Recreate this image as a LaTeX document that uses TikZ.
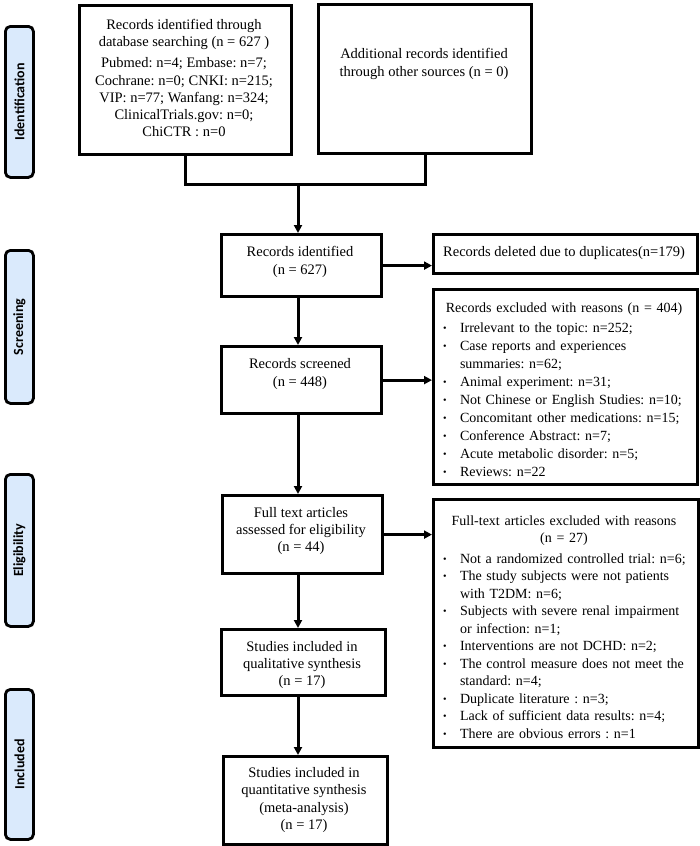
\documentclass[tikz,border=0pt]{standalone}
\usepackage{fontspec}
\setmainfont{Liberation Serif}
\newfontfamily\labfont{Carlito}
\usetikzlibrary{arrows.meta}
\definecolor{labblue}{RGB}{218,234,252}
\frenchspacing
\newcommand\bul[1]{\par\noindent\makebox[21pt][l]{\hspace{4pt}\raisebox{1.2pt}{\fontsize{10}{10}\selectfont\textbullet}}\mbox{#1}}
\newcommand\cont[1]{\par\noindent\hspace*{21pt}\mbox{#1}}
\tikzset{
  box/.style={draw, line width=3.2pt, fill=white, inner sep=0pt, anchor=north west},
  txt/.style={align=center, font=\fontsize{14.5}{17.3}\selectfont, inner sep=0pt},
  list/.style={inner sep=0pt, text width=250pt},
  stage/.style={draw, line width=2.8pt, rounded corners=5pt, fill=labblue, anchor=north west, inner sep=0pt},
  stagetxt/.style={rotate=90, font=\labfont\bfseries\fontsize{14}{14}\selectfont, inner sep=0pt},
  conn/.style={line width=3pt},
  arr/.style={conn, -{Triangle[length=8pt,width=8pt]}},
}
\begin{document}
\begin{tikzpicture}[x=1pt,y=-1pt]
\useasboundingbox (0,0) rectangle (700,846);
% stage labels
\node[stage, minimum width=28pt, minimum height=151pt] (s1) at (4,25) {};
\node[stagetxt] (s1t) at (s1.center) {Identification};
\node[stage, minimum width=28pt, minimum height=153pt] (s2) at (4,249) {};
\node[stagetxt] (s2t) at (s2.center) {Screening};
\node[stage, minimum width=28pt, minimum height=152pt] (s3) at (4,473) {};
\node[stagetxt] (s3t) at (s3.center) {Eligibility};
\node[stage, minimum width=28pt, minimum height=150pt] (s4) at (4,688) {};
\node[stagetxt] (s4t) at (s4.center) {Included};
% main boxes
\node[box, minimum width=212pt, minimum height=149pt] (b1) at (78,4) {};
\node[txt] (b1t) at (184,78) {Records identified through\\database searching (n = 627 )\\[4pt]Pubmed: n=4; Embase: n=7;\\Cochrane: n=0; CNKI: n=215;\\VIP: n=77; Wanfang: n=324;\\ClinicalTrials.gov: n=0;\\ChiCTR : n=0};
\node[box, minimum width=213pt, minimum height=149pt] (b2) at (317,3) {};
\node[txt] (b2t) at (424,64) {Additional records identified\\through other sources (n = 0)};
\node[box, minimum width=160pt, minimum height=62pt] (b3) at (220,233) {};
\node[txt] (b3t) at (300,262) {Records identified\\(n = 627)};
\node[box, minimum width=160pt, minimum height=67pt] (b4) at (220,345) {};
\node[txt] (b4t) at (300,374) {Records screened\\(n = 448)};
\node[box, minimum width=160pt, minimum height=78pt] (b5) at (221,494) {};
\node[txt] (b5t) at (301,531) {Full text articles\\assessed for eligibility\\(n = 44)};
\node[box, minimum width=164pt, minimum height=66pt] (b6) at (220,628) {};
\node[txt] (b6t) at (302,665) {Studies included in\\qualitative synthesis\\(n = 17)};
\node[box, minimum width=164pt, minimum height=88pt] (b7) at (222,755) {};
\node[txt] (b7t) at (304,800) {Studies included in\\quantitative synthesis\\(meta-analysis)\\(n = 17)};
% side boxes
\node[box, minimum width=264pt, minimum height=39pt] (del) at (432,233) {};
\node[txt] (delt) at (564,253) {Records deleted due to duplicates(n=179)};
\node[box, minimum width=264pt, minimum height=195pt] (exa) at (432,288) {};
\node[list, font=\fontsize{14}{18}\selectfont] (exat) at (564,390) {%
  {\centering Records excluded with reasons (n = 404)\par}\vspace{2pt}%
  \bul{Irrelevant to the topic: n=252;}%
  \bul{Case reports and experiences}%
  \cont{summaries: n=62;}%
  \bul{Animal experiment: n=31;}%
  \bul{Not Chinese or English Studies: n=10;}%
  \bul{Concomitant other medications: n=15;}%
  \bul{Conference Abstract: n=7;}%
  \bul{Acute metabolic disorder: n=5;}%
  \bul{Reviews: n=22}};
\node[box, minimum width=265pt, minimum height=248pt] (exb) at (432,498) {};
\node[list, font=\fontsize{14}{17.5}\selectfont] (exbt) at (564,627) {%
  {\centering Full-text articles excluded with reasons\\(n = 27)\par}\vspace{3pt}%
  \bul{Not a randomized controlled trial: n=6;}%
  \bul{The study subjects were not patients}%
  \cont{with T2DM: n=6;}%
  \bul{Subjects with severe renal impairment}%
  \cont{or infection: n=1;}%
  \bul{Interventions are not DCHD: n=2;}%
  \bul{The control measure does not meet the}%
  \cont{standard: n=4;}%
  \bul{Duplicate literature : n=3;}%
  \bul{Lack of sufficient data results: n=4;}%
  \bul{There are obvious errors : n=1}};
% connectors
\coordinate (j) at (298,184);
\draw[conn] (b1.south) |- (b2.south |- j) -- (b2.south);
\draw[arr] (j) -- (j |- b3.north);
\draw[arr] (b3.south -| j) -- (j |- b4.north);
\draw[arr] (b4.south -| j) -- (j |- b5.north);
\draw[arr] (b5.south -| j) -- (j |- b6.north);
\draw[arr] (b6.south -| j) -- (j |- b7.north);
\draw[arr] (b3.east) -- (b3.east -| del.west);
\draw[arr] (b4.east) -- (b4.east -| exa.west);
\draw[arr] (b5.east) -- (b5.east -| exb.west);
\end{tikzpicture}
\end{document}
